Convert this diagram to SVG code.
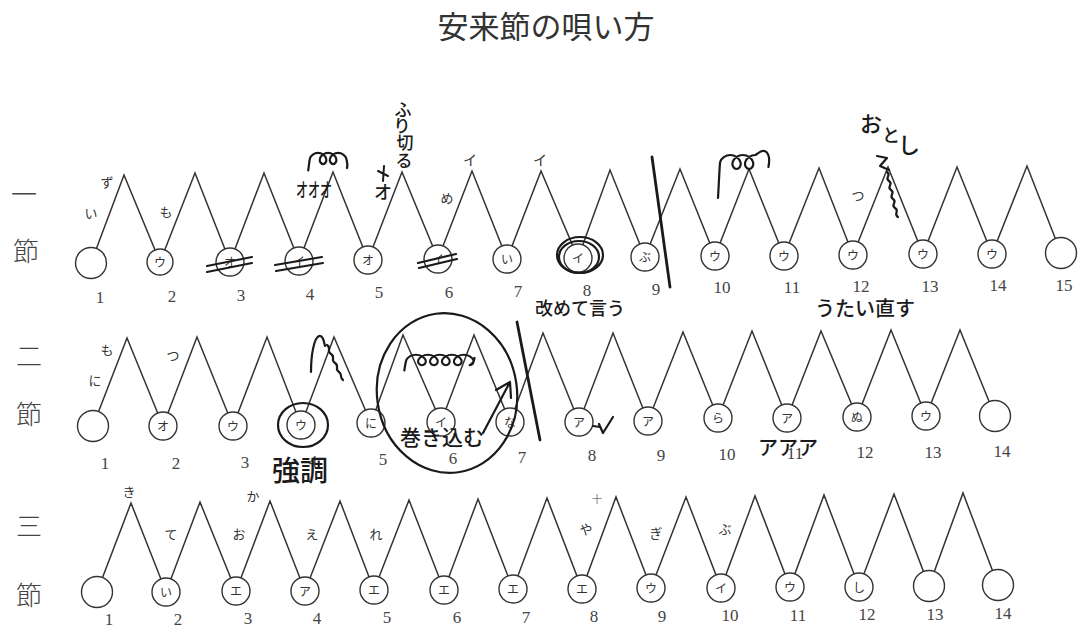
<svg xmlns="http://www.w3.org/2000/svg" width="1080" height="629" viewBox="0 0 1080 629">
<style>
.z{fill:none;stroke:#333;stroke-width:1.5}
.c{fill:#fff;stroke:#333;stroke-width:1.4}
.cl{font-family:"Noto Sans CJK JP",sans-serif;font-size:12px;fill:#333;text-anchor:middle}
.k{font-family:"Noto Sans CJK JP",sans-serif;font-size:13px;fill:#333;text-anchor:middle}
.n{font-family:"Liberation Serif",serif;font-size:17px;fill:#444;text-anchor:middle}
.h{fill:none;stroke:#1a1a1a;stroke-width:2.2;stroke-linecap:round;stroke-linejoin:round}
.ht{font-family:"Noto Sans CJK JP",sans-serif;font-weight:500;fill:#1a1a1a;text-anchor:middle}
.rl{font-family:"Noto Sans CJK JP",sans-serif;font-size:26px;fill:#444;text-anchor:middle;font-weight:300}
.t{font-family:"Noto Sans CJK JP",sans-serif;font-size:31px;fill:#333;text-anchor:middle}
</style>
<rect width="1080" height="629" fill="#fff"/>
<text class="t" x="546" y="38">安来節の唄い方</text>
<g id="rowlabels">
<text class="rl" x="24" y="204">一</text>
<text class="rl" x="26" y="261">節</text>
<text class="rl" x="29" y="366">二</text>
<text class="rl" x="29" y="424">節</text>
<text class="rl" x="29" y="536">三</text>
<text class="rl" x="29" y="605">節</text>
</g>
<g id="connectors">
<polyline class="z" points="91,263 124,175 160,262 195,173 230,262 264,173 299,261 333,172 368,260 402,172 438,259 472,171 507,259 541,171 578,258 610,170 645,257 680,169 715,256 749,169 784,256 819,168 853,255 888,167 923,254 957,167 992,254 1027,166 1061,253"/>
<polyline class="z" points="93,426 127,338 163,426 197,337 233,426 267,337 301,425 334,337 371,423 403,335 441,422 474,335 510,422 543,333 579,422 613,333 648,421 683,332 718,418 752,331 787,418 821,331 857,417 891,330 926,416 960,330 995,416"/>
<polyline class="z" points="97,592 131,503 166,592 200,502 236,591 270,501 305,591 340,501 374,590 409,500 444,590 478,499 513,589 547,498 582,589 616,497 651,588 686,497 721,588 755,496 790,587 824,495 859,587 894,494 929,586 963,493 998,585"/>
</g>
<g id="row1">
<g id="r1n1"><circle class="c" cx="91" cy="263" r="15.5"/><text class="n" x="100" y="303">1</text></g>
<g id="r1n2"><circle class="c" cx="160" cy="262" r="13"/><text class="cl" x="160" y="266.5">ウ</text><text class="n" x="172" y="302">2</text></g>
<g id="r1n3"><circle class="c" cx="230" cy="262" r="14"/><text class="cl" x="230" y="266.5">オ</text><text class="n" x="241" y="301">3</text></g>
<g id="r1n4"><circle class="c" cx="299" cy="261" r="14"/><text class="cl" x="299" y="265.5">イ</text><text class="n" x="310" y="300">4</text></g>
<g id="r1n5"><circle class="c" cx="368" cy="260" r="14"/><text class="cl" x="368" y="264.5">オ</text><text class="n" x="379" y="298">5</text></g>
<g id="r1n6"><circle class="c" cx="438" cy="259" r="14"/><text class="cl" x="438" y="263.5">イ</text><text class="n" x="449" y="298">6</text></g>
<g id="r1n7"><circle class="c" cx="507" cy="259" r="14"/><text class="cl" x="507" y="263.5">い</text><text class="n" x="518" y="297">7</text></g>
<g id="r1n8"><circle class="c" cx="578" cy="258" r="14"/><text class="cl" x="578" y="262.5">イ</text><text class="n" x="587" y="296">8</text></g>
<g id="r1n9"><circle class="c" cx="645" cy="257" r="14"/><text class="cl" x="645" y="261.5">ぶ</text><text class="n" x="656" y="295">9</text></g>
<g id="r1n10"><circle class="c" cx="715" cy="256" r="14"/><text class="cl" x="715" y="260.5">ウ</text><text class="n" x="722" y="293">10</text></g>
<g id="r1n11"><circle class="c" cx="784" cy="256" r="14"/><text class="cl" x="784" y="260.5">ウ</text><text class="n" x="792" y="293">11</text></g>
<g id="r1n12"><circle class="c" cx="853" cy="255" r="14"/><text class="cl" x="853" y="259.5">ウ</text><text class="n" x="861" y="292">12</text></g>
<g id="r1n13"><circle class="c" cx="923" cy="254" r="14"/><text class="cl" x="923" y="258.5">ウ</text><text class="n" x="930" y="292">13</text></g>
<g id="r1n14"><circle class="c" cx="992" cy="254" r="14"/><text class="cl" x="992" y="258.5">ウ</text><text class="n" x="998" y="291">14</text></g>
<g id="r1n15"><circle class="c" cx="1061" cy="253" r="15.5"/><text class="n" x="1064" y="291">15</text></g>
</g>
<g id="row2">
<g id="r2n1"><circle class="c" cx="93" cy="426" r="15.5"/><text class="n" x="105" y="469">1</text></g>
<g id="r2n2"><circle class="c" cx="163" cy="426" r="14"/><text class="cl" x="163" y="430.5">オ</text><text class="n" x="176" y="469">2</text></g>
<g id="r2n3"><circle class="c" cx="233" cy="426" r="14"/><text class="cl" x="233" y="430.5">ウ</text><text class="n" x="245" y="468">3</text></g>
<g id="r2n4"><circle class="c" cx="301" cy="425" r="14"/><text class="cl" x="301" y="429.5">ウ</text><text class="n" x="313" y="467">4</text></g>
<g id="r2n5"><circle class="c" cx="371" cy="423" r="14"/><text class="cl" x="371" y="427.5">に</text><text class="n" x="383" y="465">5</text></g>
<g id="r2n6"><circle class="c" cx="441" cy="422" r="14"/><text class="cl" x="441" y="426.5">イ</text><text class="n" x="453" y="464">6</text></g>
<g id="r2n7"><circle class="c" cx="510" cy="422" r="14"/><text class="cl" x="510" y="426.5">な</text><text class="n" x="522" y="463">7</text></g>
<g id="r2n8"><circle class="c" cx="579" cy="422" r="14"/><text class="cl" x="579" y="426.5">ア</text><text class="n" x="592" y="461">8</text></g>
<g id="r2n9"><circle class="c" cx="648" cy="421" r="14"/><text class="cl" x="648" y="425.5">ア</text><text class="n" x="661" y="461">9</text></g>
<g id="r2n10"><circle class="c" cx="718" cy="418" r="14"/><text class="cl" x="718" y="422.5">ら</text><text class="n" x="727" y="460">10</text></g>
<g id="r2n11"><circle class="c" cx="787" cy="418" r="14"/><text class="cl" x="787" y="422.5">ア</text><text class="n" x="795" y="459">11</text></g>
<g id="r2n12"><circle class="c" cx="857" cy="417" r="14"/><text class="cl" x="857" y="421.5">ぬ</text><text class="n" x="865" y="458">12</text></g>
<g id="r2n13"><circle class="c" cx="926" cy="416" r="14"/><text class="cl" x="926" y="420.5">ウ</text><text class="n" x="933" y="458">13</text></g>
<g id="r2n14"><circle class="c" cx="995" cy="416" r="15.5"/><text class="n" x="1002" y="457">14</text></g>
</g>
<g id="row3">
<g id="r3n1"><circle class="c" cx="97" cy="592" r="15.5"/><text class="n" x="109" y="625">1</text></g>
<g id="r3n2"><circle class="c" cx="166" cy="592" r="14"/><text class="cl" x="166" y="596.5">い</text><text class="n" x="178" y="625">2</text></g>
<g id="r3n3"><circle class="c" cx="236" cy="591" r="14"/><text class="cl" x="236" y="595.5">エ</text><text class="n" x="248" y="624">3</text></g>
<g id="r3n4"><circle class="c" cx="305" cy="591" r="14"/><text class="cl" x="305" y="595.5">ア</text><text class="n" x="317" y="624">4</text></g>
<g id="r3n5"><circle class="c" cx="374" cy="590" r="14"/><text class="cl" x="374" y="594.5">エ</text><text class="n" x="387" y="623">5</text></g>
<g id="r3n6"><circle class="c" cx="444" cy="590" r="14"/><text class="cl" x="444" y="594.5">エ</text><text class="n" x="457" y="623">6</text></g>
<g id="r3n7"><circle class="c" cx="513" cy="589" r="14"/><text class="cl" x="513" y="593.5">エ</text><text class="n" x="526" y="623">7</text></g>
<g id="r3n8"><circle class="c" cx="582" cy="589" r="14"/><text class="cl" x="582" y="593.5">エ</text><text class="n" x="594" y="622">8</text></g>
<g id="r3n9"><circle class="c" cx="651" cy="588" r="14"/><text class="cl" x="651" y="592.5">ウ</text><text class="n" x="662" y="622">9</text></g>
<g id="r3n10"><circle class="c" cx="721" cy="588" r="14"/><text class="cl" x="721" y="592.5">イ</text><text class="n" x="730" y="621">10</text></g>
<g id="r3n11"><circle class="c" cx="790" cy="587" r="14"/><text class="cl" x="790" y="591.5">ウ</text><text class="n" x="798" y="621">11</text></g>
<g id="r3n12"><circle class="c" cx="859" cy="587" r="14"/><text class="cl" x="859" y="591.5">し</text><text class="n" x="867" y="620">12</text></g>
<g id="r3n13"><circle class="c" cx="929" cy="586" r="15.5"/><text class="n" x="935" y="620">13</text></g>
<g id="r3n14"><circle class="c" cx="998" cy="585" r="15.5"/><text class="n" x="1003" y="619">14</text></g>
</g>
<g id="lyrics">
<text class="k" x="107" y="187">ず</text>
<text class="k" x="91" y="218">い</text>
<text class="k" x="166" y="217">も</text>
<text class="k" x="447" y="203">め</text>
<text class="k" x="470" y="165" style="font-size:14px">イ</text>
<text class="k" x="540" y="165" style="font-size:14px">イ</text>
<text class="k" x="858" y="200">つ</text>
<text class="k" x="107" y="355">も</text>
<text class="k" x="95" y="385">に</text>
<text class="k" x="173" y="360">つ</text>
<text class="k" x="129" y="497">き</text>
<text class="k" x="171" y="539">て</text>
<text class="k" x="253" y="501">か</text>
<text class="k" x="239" y="539">お</text>
<text class="k" x="312" y="539">え</text>
<text class="k" x="376" y="539">れ</text>
<text class="k" x="597" y="503" style="font-size:10px;fill:#777">十</text>
<text class="k" x="586" y="534">や</text>
<text class="k" x="656" y="538">ぎ</text>
<text class="k" x="725" y="534">ぶ</text>
</g>
<g id="annotations">
<path class="h" d="M207,266 L252,257 M207,272 L252,263"/>
<path class="h" d="M275,265 L322,257 M276,271 L323,263"/>
<path class="h" d="M418,263 L456,254 M419,268 L457,259"/>
<ellipse class="h" cx="580" cy="255" rx="23" ry="18"/>
<ellipse class="h" cx="579" cy="257" rx="20" ry="16"/>
<path class="h" d="M652,157 L670,287" style="stroke-width:2.8"/>
<path class="h" vector-effect="non-scaling-stroke" transform="translate(313,158.5) scale(0.8)" d="M-6,15 C-5,8 -4.5,3 -3.86,0 c1.05,-3.67 5.43,-7 10.14,-7 c4.71,0 9.09,3.33 10.14,7 c1.05,3.67 -1.23,7 -3.85,7 c-2.62,0 -4.91,-3.33 -3.86,-7 c1.050,-3.67 5.43,-7 10.14,-7 c4.71,0 9.09,3.33 10.14,7 c1.05,3.67 -1.23,7 -3.85,7 c-2.62,0 -4.91,-3.33 -3.86,-7 c1.05,-3.67 5.43,-7 10.14,-7 c4.71,0 9.09,3.33 10.14,7 c1.05,3.67 2,8 1,12"/>
<text class="ht" x="314" y="197" font-size="19" textLength="36" lengthAdjust="spacingAndGlyphs">オオオ</text>
<path class="h" d="M378,171 L388,176 M384,166 L383,181" style="stroke-width:2"/>
<text class="ht" x="383" y="199" font-size="18">オ</text>
<text class="ht" x="403" y="116" font-size="17">ふ</text>
<text class="ht" x="402" y="132" font-size="17">り</text>
<text class="ht" x="405" y="149" font-size="17">切</text>
<text class="ht" x="404" y="167" font-size="17">る</text>
<text class="ht" x="580" y="315" font-size="18">改めて言う</text>
<path class="h" vector-effect="non-scaling-stroke" transform="translate(724,162)" d="M-6,36 C-5,20 -4.5,4 -3.86,0 c1.05,-3.67 5.43,-7 10.14,-7 c4.71,0 9.09,3.33 10.14,7 c1.05,3.67 -1.23,7 -3.85,7 c-2.62,0 -4.91,-3.33 -3.86,-7 c1.05,-3.67 5.43,-7 10.14,-7 c4.71,0 9.09,3.33 10.14,7 c1.05,3.67 -1.23,7 -3.85,7 c-2.62,0 -4.91,-3.33 -3.86,-7 c1.05,-3.67 5.43,-7 10.14,-7 c4,-3 8,-6 11,-3 c3,3 3,10 2,15"/>
<text class="ht" x="871" y="132" font-size="22">お</text>
<text class="ht" x="891" y="142" font-size="18">と</text>
<text class="ht" x="909" y="153" font-size="22">し</text>
<path class="h" d="M877,156 L887,158 L880,166 L889,170 M887,172 c5,3 -3,6 2,9 c5,3 -3,6 2,9 c5,3 -3,6 2,9 c5,3 -3,6 2,9 c5,3 -2,6 3,9"/>
<text class="ht" x="865" y="316" font-size="20">うたい直す</text>
<path class="h" d="M311,372 C311,355 314,338 319,336 C323,335 324,342 325,346 M327,345 c5,3 -1,6 4,9 c5,3 -1,6 4,9 c5,3 -1,6 4,9 c4,3 0,5 4,8"/>
<ellipse class="h" cx="303" cy="425" rx="25" ry="22"/>
<text class="ht" x="300" y="481" font-size="28">強調</text>
<ellipse class="h" cx="447" cy="393" rx="70" ry="80" transform="rotate(-8 447 393)"/>
<path class="h" vector-effect="non-scaling-stroke" transform="translate(410,360) scale(0.95,0.75)" d="M-6,14 C-5,6 -4.5,2 -3.86,0 c1.05,-3.67 5.43,-7 10.14,-7 c4.71,0 9.09,3.33 10.14,7 c1.05,3.67 -1.23,7 -3.85,7 c-2.62,0 -4.91,-3.33 -3.86,-7 c1.05,-3.67 5.43,-7 10.14,-7 c4.71,0 9.09,3.33 10.14,7 c1.05,3.67 -1.23,7 -3.85,7 c-2.62,0 -4.91,-3.33 -3.86,-7 c1.05,-3.67 5.43,-7 10.14,-7 c4.71,0 9.09,3.33 10.14,7 c1.05,3.67 -1.23,7 -3.85,7 c-2.62,0 -4.91,-3.33 -3.86,-7 c1.05,-3.67 5.43,-7 10.14,-7 c4.71,0 9.09,3.33 10.14,7 c1.05,3.67 -1.23,7 -3.85,7 c-2.62,0 -4.91,-3.33 -3.86,-7 c1.05,-3.67 5.43,-7 10.14,-7 c4.71,0 9.09,3.33 10.14,7 c1.05,3.67 -1.23,7 -3.85,7 c3,-2 5,-6 5,-10"/>
<text class="ht" x="442" y="445" font-size="21">巻き込む</text>
<path class="h" d="M483,433 L510,382 M496,390 L510,382 L511,398"/>
<path class="h" d="M517,322 L540,440" style="stroke-width:2.8"/>
<path class="h" d="M593,426 L600,427 M599,424 L603,433 L613,417"/>
<text class="ht" x="788" y="455" font-size="20">アアア</text>
</g>
</svg>
